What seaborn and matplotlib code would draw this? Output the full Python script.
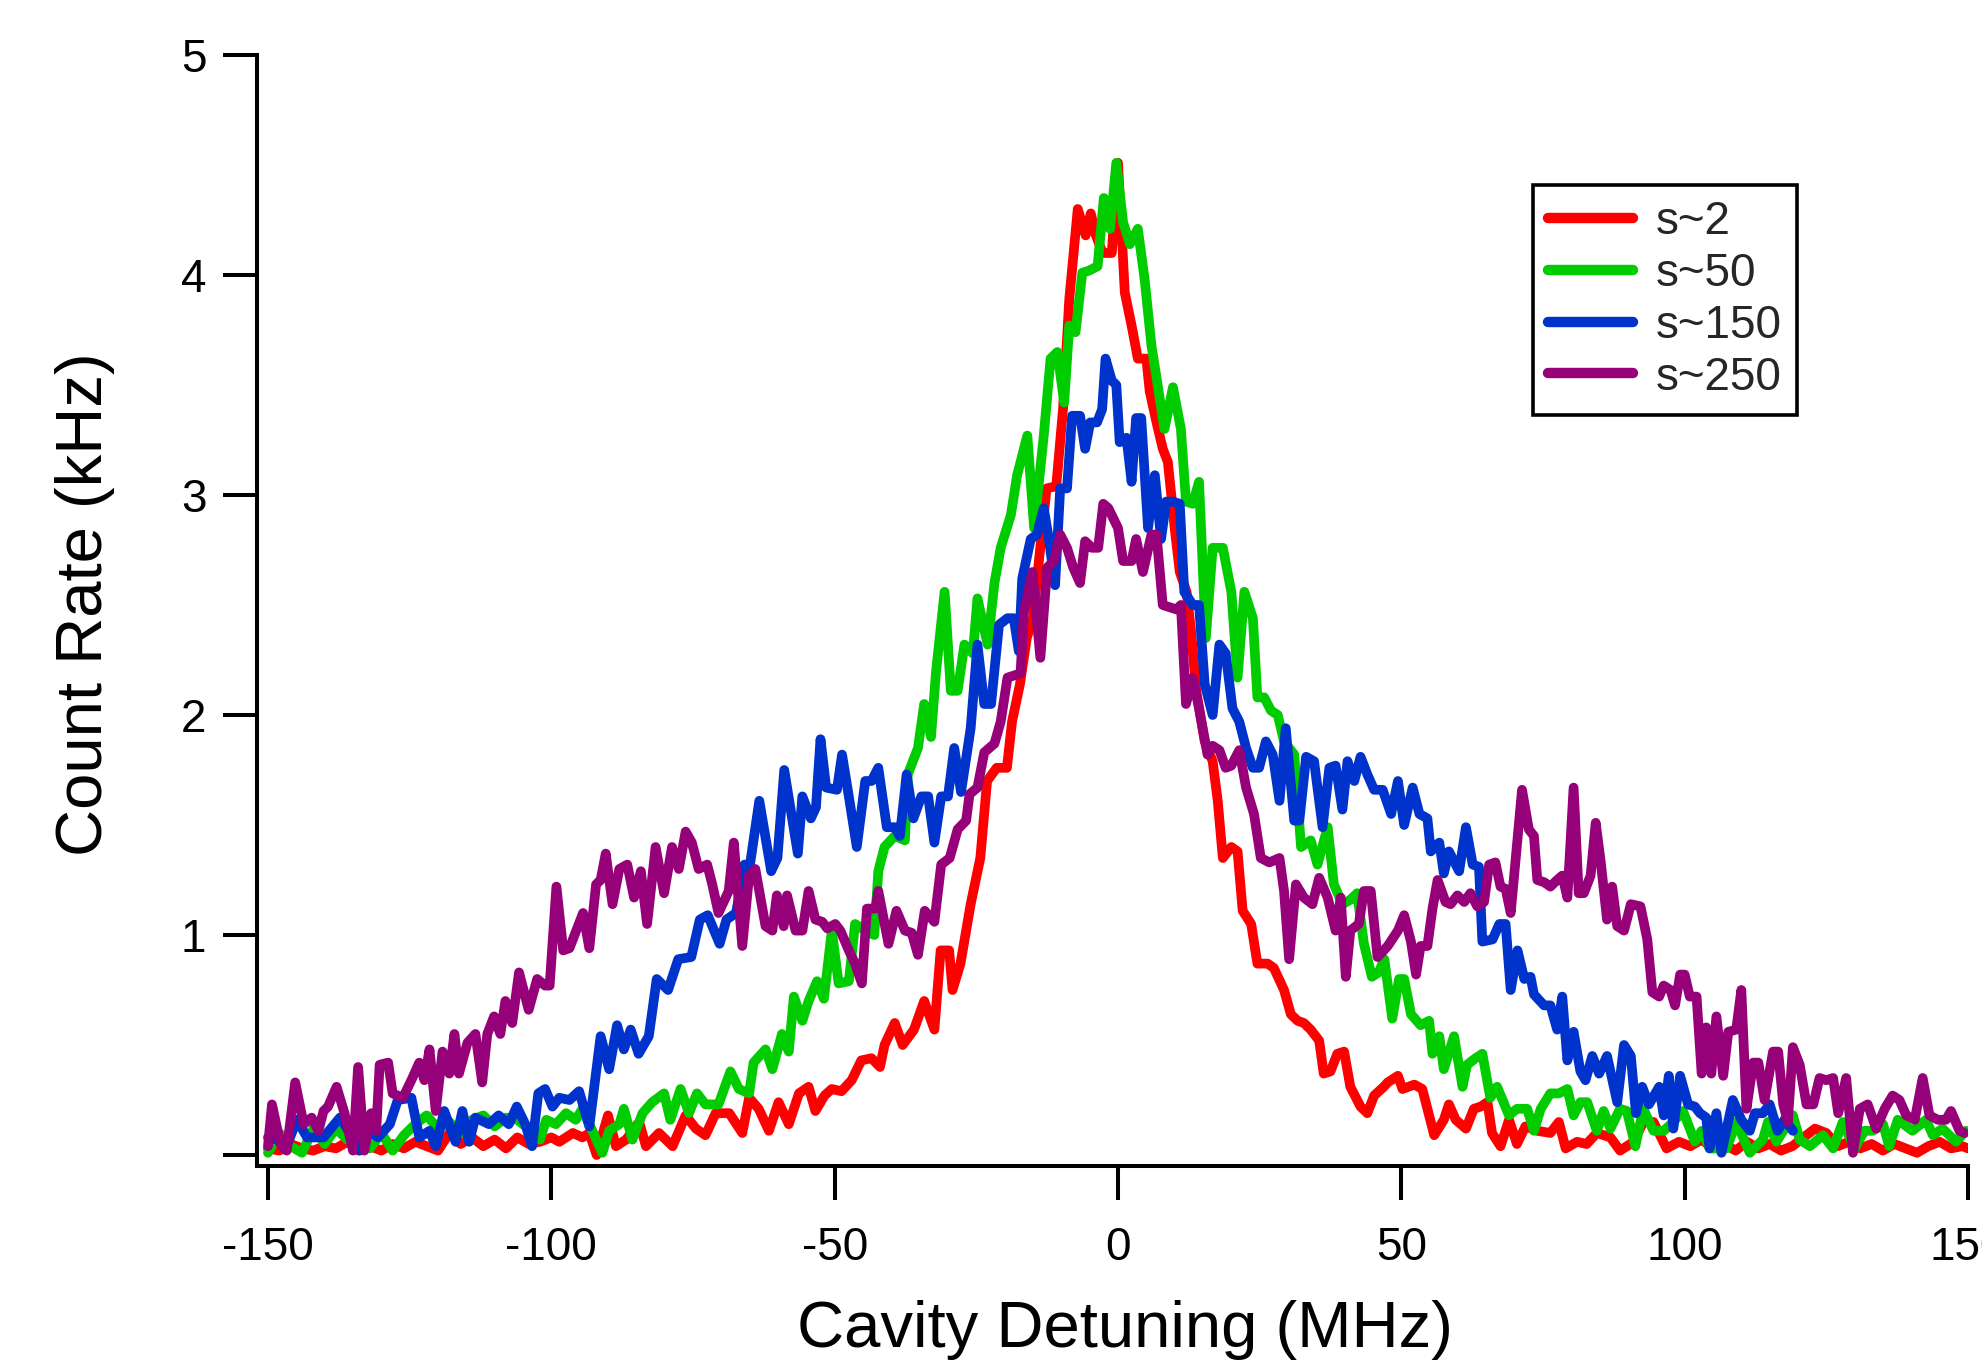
import numpy as np
import pandas as pd
import matplotlib
matplotlib.use("Agg")
import matplotlib.pyplot as plt
import seaborn as sns

# ---------------- data ----------------
series_names = ["s~2", "s~50", "s~150", "s~250"]
series_colors = ["#FF0000", "#00CC00", "#0033CC", "#960078"]

red_x = [-150, -148, -146, -144, -142, -140, -138, -136, -134, -132, -130, -128, -126, -124, -122, -120,
         -118, -116, -114, -112, -110, -108, -106, -104, -102, -100, -98.6, -96.2, -94.5, -93.3, -92, -90,
         -88.6, -86.8, -84.5, -83.3, -81, -78.6, -76.3, -74.5, -72.8, -71, -68.6, -66.3, -65.1, -63.4,
         -61.6, -59.9, -58.1, -56.3, -54.6, -53.4, -51.8, -50.5, -48.8, -47, -45.3, -43.5, -42, -41.2,
         -39.4, -38, -36, -34.2, -32.4, -31.3, -29.8, -29.2, -27.8, -26, -24.3, -23.1, -21.4, -19.6,
         -18.7, -17.3, -16.1, -15, -13.8, -12.6, -10.9, -9.7, -8.6, -7.1, -5.7, -4.8, -3.9, -2.7, -1.1,
         0, 1.2, 2.4, 3.5, 5, 5.6, 6.8, 7.9, 8.8, 10, 10.9, 12.1, 12.9, 13.8, 15.3, 16.7, 17.6, 18.5, 20,
         21.1, 22, 23.5, 24.6, 26.4, 27.5, 29.3, 30.5, 31.7, 32.8, 34, 35.5, 36.3, 37.5, 38.7, 39.9, 41,
         42.8, 44, 45.2, 46.9, 47.6, 49.4, 50.2, 52.3, 53.7, 54.9, 55.8, 57.5, 58.4, 59.6, 61.4, 62.8, 64,
         65.2, 66, 67.5, 69, 70.4, 71.9, 74, 76.3, 77.8, 79, 81, 82.7, 84.5, 86.9, 88.6, 91, 92.7, 94.5,
         96.8, 99, 101, 103, 105, 107, 109, 111, 113, 115, 117, 119, 121, 123, 125, 127, 129, 131, 133,
         135, 137, 139, 141, 143, 145, 147, 149, 150]
red_y = [0.03, 0.02, 0.05, 0.03, 0.02, 0.04, 0.03, 0.06, 0.02, 0.04, 0.02, 0.05, 0.03, 0.06, 0.04, 0.02,
         0.10, 0.05, 0.08, 0.04, 0.07, 0.03, 0.08, 0.05, 0.06, 0.08, 0.06, 0.10, 0.08, 0.10, 0.00, 0.18,
         0.04, 0.07, 0.15, 0.04, 0.10, 0.04, 0.18, 0.12, 0.09, 0.19, 0.19, 0.10, 0.26, 0.21,
         0.11, 0.24, 0.14, 0.28, 0.31, 0.20, 0.27, 0.30, 0.29, 0.34, 0.43, 0.44, 0.40, 0.50,
         0.60, 0.50, 0.57, 0.70, 0.57, 0.93, 0.93, 0.75, 0.87, 1.14, 1.35, 1.70, 1.76, 1.76,
         1.97, 2.14, 2.35, 2.44, 2.74, 3.03, 3.04, 3.39, 3.89, 4.30, 4.18, 4.28, 4.18, 4.10, 4.10,
         4.51, 3.92, 3.77, 3.62, 3.62, 3.47, 3.33, 3.21, 3.15, 2.85, 2.65, 2.56, 2.38, 2.11, 1.88, 1.79, 1.61, 1.35, 1.40,
         1.38, 1.11, 1.05, 0.87, 0.87, 0.85, 0.75, 0.64, 0.61, 0.60, 0.57, 0.52, 0.37, 0.38, 0.46, 0.47, 0.31,
         0.22, 0.19, 0.27, 0.31, 0.33, 0.36, 0.30, 0.32, 0.30, 0.18, 0.09, 0.16, 0.23, 0.16, 0.12, 0.21, 0.22,
         0.24, 0.10, 0.04, 0.16, 0.05, 0.13, 0.11, 0.10, 0.15, 0.03, 0.06, 0.05, 0.10, 0.08, 0.02, 0.06, 0.15, 0.15,
         0.03, 0.06, 0.04, 0.07, 0.03, 0.05, 0.02, 0.06, 0.03, 0.05, 0.02, 0.04, 0.08, 0.12, 0.10, 0.04, 0.06, 0.03, 0.05,
         0.02, 0.05, 0.03, 0.01, 0.04, 0.06, 0.03, 0.04, 0.03]

green_x = [-150, -148, -146, -144, -142, -140, -138, -136, -134, -132, -130, -128, -126, -124, -122, -120,
           -118, -116, -114, -112, -110, -108, -106, -104, -102, -100.9, -99.2, -97.4, -95.7, -94.5, -93.3,
           -91, -89.8, -88, -87.2, -85.7, -83.9, -82.2, -80.1, -79, -77.2, -75.7, -74.3, -72.8, -70.5, -68.4,
           -66.9, -65.1, -64.3, -62.2, -61, -59.3, -58.1, -57.2, -55.7, -54.6, -53.1, -51.9, -50.5, -49.3,
           -47.5, -46.4, -44.6, -43, -42.3, -41.2, -39.4, -37.6, -37.1, -35.3, -34.2, -33, -32.1, -30.6,
           -29.5, -28.3, -27.1, -25.6, -24.8, -23, -21.8, -20.7, -18.9, -17.8, -16, -14.8, -13.1, -11.9,
           -10.7, -9.5, -8.6, -7.5, -6.3, -5.1, -3.6, -2.5, -1.4, -0.3, 0.9, 2.1, 3.5, 4.7, 5.9, 7, 8.2, 9.7,
           11.1, 12, 13.2, 14.3, 15.5, 16.7, 18.5, 20, 21.1, 22.3, 23.8, 24.6, 25.8, 27, 28.2, 29.3, 31.1,
           32.3, 34, 35.2, 37, 38.1, 39.6, 41, 42.2, 43.4, 44.8, 46, 47, 48.4, 49.6, 50.5, 51.7, 53.4, 54.9,
           55.5, 56.7, 57.5, 59.3, 60.8, 61.6, 63.1, 64.3, 65.7, 66.9, 69, 70.4, 72.2, 73.4, 74.6, 76.3, 77.8,
           79.3, 80.4, 81.6, 82.8, 84.5, 85.7, 86.9, 88.6, 89.8, 91.3, 92.7, 94.5, 96.3, 98, 99.7, 101.8, 103,
           104.4, 107.4, 109.1, 111.5, 113.8, 114.7, 116.2, 119.1, 120.3, 122.1, 124.4, 126.2, 127.9, 130,
           131.7, 133.2, 135, 136.1, 137.6, 140.2, 142.6, 143.8, 145.5, 147.9, 149.6]
green_y = [0.01, 0.10, 0.04, 0.01, 0.12, 0.05, 0.12, 0.07, 0.15, 0.03, 0.10, 0.02, 0.09, 0.14, 0.18, 0.12,
           0.15, 0.10, 0.16, 0.18, 0.13, 0.17, 0.16, 0.12, 0.07, 0.16, 0.14, 0.19, 0.16, 0.21, 0.14,
           0.01, 0.11, 0.14, 0.21, 0.07, 0.19, 0.24, 0.28, 0.16, 0.30, 0.19, 0.28, 0.23, 0.23, 0.38,
           0.30, 0.28, 0.42, 0.48, 0.39, 0.55, 0.47, 0.72, 0.61, 0.70, 0.79, 0.71, 1.02, 0.78,
           0.79, 1.05, 1.02, 1.00, 1.29, 1.40, 1.45, 1.43, 1.73, 1.85, 2.05, 1.90, 2.20, 2.56,
           2.11, 2.11, 2.32, 2.28, 2.53, 2.32, 2.60, 2.76, 2.91, 3.09, 3.27, 2.85, 3.27, 3.62,
           3.65, 3.42, 3.77, 3.74, 4.01, 4.02, 4.04, 4.35, 4.21, 4.51, 4.24, 4.14, 4.21, 3.98, 3.68, 3.50, 3.30, 3.49,
           3.30, 2.97, 2.96, 3.06, 2.35, 2.76, 2.76, 2.56, 2.17, 2.56, 2.44, 2.08, 2.08, 2.02, 2.00, 1.88, 1.82,
           1.40, 1.43, 1.32, 1.49, 1.23, 1.14, 1.16, 1.19, 0.96, 0.81, 0.83, 0.89, 0.62, 0.80, 0.80, 0.64, 0.59, 0.61,
           0.46, 0.54, 0.39, 0.54, 0.31, 0.41, 0.44, 0.46, 0.26, 0.31, 0.18, 0.21, 0.21, 0.11, 0.21, 0.28, 0.28,
           0.30, 0.18, 0.24, 0.24, 0.11, 0.20, 0.12, 0.21, 0.20, 0.04, 0.21, 0.11, 0.11, 0.15, 0.20, 0.06, 0.11,
           0.03, 0.03, 0.15, 0.01, 0.07, 0.15, 0.06, 0.18, 0.07, 0.04, 0.09, 0.03, 0.15, 0.03,
           0.11, 0.11, 0.14, 0.04, 0.16, 0.11, 0.16, 0.09, 0.12, 0.06, 0.11]

blue_x = [-150, -148.4, -146.7, -144.9, -143.1, -140.2, -137.3, -135.8, -133.8, -132, -130.6, -128.5, -127.1,
          -124.7, -123.3, -121.5, -120.4, -118.9, -116.9, -115.7, -114.5, -113.4, -111, -109.3, -107.5, -106.1,
          -104.6, -103.4, -102.3, -101.1, -99.8, -98.6, -96.8, -95.1, -93.3, -91.3, -89.8, -88.4, -87.2, -86,
          -84.6, -82.8, -81.4, -79.4, -77.6, -75.3, -73.8, -72.4, -70.3, -69.1, -67.4, -65.9, -65, -63.3,
          -61.2, -60.1, -58.9, -56.5, -55.7, -54.2, -53.3, -52.5, -51.5, -49.6, -48.7, -47.5, -46.1, -44.6,
          -43.5, -42.3, -40.8, -39.4, -38.5, -37.3, -36.1, -34.7, -33.5, -32.4, -31.2, -30, -28.9, -27.7, -26,
          -24.8, -23.6, -22.4, -21, -19.5, -18.4, -17.5, -16.9, -15.4, -14.3, -13.1, -12.2, -11.1, -10.2, -9,
          -8.1, -6.7, -5.8, -4.9, -3.7, -2.8, -2.2, -1.1, -0.3, 0.3, 1.5, 2.4, 3.2, 4.1, 5.3, 6.5, 7.6, 8.5,
          9.7, 10.9, 11.7, 13.2, 14.3, 15.3, 16.7, 17.9, 19, 20.2, 21.4, 22.6, 23.8, 24.9, 26.1, 27.3, 28.5,
          29.6, 31.1, 32, 33.2, 34.6, 36.1, 37.3, 38.4, 39.6, 40.5, 41.7, 42.8, 44, 45.2, 46.7, 48.2, 49.4,
          50.5, 52, 53.2, 54.6, 55.2, 56.7, 57.5, 58.4, 60.2, 61.4, 62.6, 63.7, 64.3, 66.1, 67.3, 68.4, 69.3,
          70.5, 71.7, 72.8, 73.4, 75.2, 76.3, 77.5, 78.4, 79.3, 80.4, 81.6, 82.5, 83.7, 84.9, 86.3, 88.1, 89.3,
          90.5, 91.4, 92.5, 93.7, 95.5, 96.3, 97.2, 98, 99.2, 100.6, 101.8, 102.7, 103.8, 104.4, 105.6, 106.5,
          108.5, 110, 111.5, 112.4, 113.8, 115, 116.4, 117.6, 119.1]
blue_y = [0.08, 0.07, 0.04, 0.16, 0.08, 0.08, 0.17, 0.11, 0.02, 0.11, 0.08, 0.14, 0.25,
          0.26, 0.08, 0.11, 0.04, 0.20, 0.06, 0.20, 0.06, 0.17, 0.14, 0.18, 0.14, 0.22,
          0.14, 0.04, 0.28, 0.30, 0.22, 0.26, 0.25, 0.29, 0.13, 0.54, 0.39, 0.59, 0.48, 0.57,
          0.46, 0.54, 0.80, 0.75, 0.89, 0.90, 1.07, 1.09, 0.96, 1.07, 1.10, 1.32, 1.31, 1.61,
          1.29, 1.35, 1.75, 1.37, 1.63, 1.53, 1.58, 1.89, 1.67, 1.66, 1.82, 1.63, 1.40, 1.70,
          1.70, 1.76, 1.49, 1.49, 1.45, 1.73, 1.53, 1.63, 1.63, 1.42, 1.63, 1.63, 1.85, 1.65, 1.94,
          2.32, 2.05, 2.05, 2.41, 2.44, 2.44, 2.29, 2.62, 2.80, 2.82, 2.94, 2.80, 2.59, 3.03, 3.03,
          3.36, 3.36, 3.21, 3.33, 3.33, 3.39, 3.62, 3.52, 3.50, 3.24, 3.26, 3.06, 3.35, 3.35, 2.85, 3.09, 2.80, 2.97,
          2.97, 2.96, 2.56, 2.50, 2.50, 2.14, 2.00, 2.32, 2.28, 2.03, 1.97, 1.85, 1.76, 1.76, 1.88, 1.82, 1.61,
          1.94, 1.52, 1.52, 1.81, 1.79, 1.49, 1.76, 1.77, 1.57, 1.79, 1.70, 1.81, 1.73, 1.66, 1.66, 1.55, 1.70,
          1.50, 1.67, 1.55, 1.53, 1.38, 1.42, 1.28, 1.38, 1.29, 1.49, 1.32, 1.31, 0.97, 0.98, 1.05, 1.05, 0.75,
          0.93, 0.80, 0.81, 0.73, 0.68, 0.68, 0.57, 0.72, 0.43, 0.56, 0.38, 0.34, 0.45, 0.37, 0.45, 0.24, 0.50,
          0.45, 0.19, 0.31, 0.23, 0.31, 0.18, 0.36, 0.12, 0.36, 0.23, 0.22, 0.19, 0.17, 0.03, 0.19, 0.01,
          0.25, 0.16, 0.11, 0.19, 0.19, 0.23, 0.11, 0.16, 0.11]

purple_x = [-150, -149.3, -147.8, -146.7, -145.2, -143.7, -142.3, -141.1, -140.2, -139.4, -137.9, -136.5, -135,
            -134.1, -133, -131.8, -130.9, -130.3, -128.8, -128, -126.2, -124.7, -123.3, -122.4, -121.5, -120.4,
            -119.2, -118, -117.1, -116.3, -114.8, -113.4, -112.2, -111.3, -110.1, -109, -108.1, -106.9, -105.7,
            -104, -102.5, -101.1, -100.3, -99.1, -97.9, -96.8, -95.3, -94.4, -93.3, -92.1, -91.3, -90.4, -89.2,
            -88, -86.6, -85.4, -84.2, -83.1, -81.6, -80.1, -78.7, -77.5, -76.3, -75.2, -74, -72.5, -71.6, -70.5,
            -68.7, -67.8, -66.3, -65.1, -64, -62.2, -61, -60.2, -59, -58.4, -56.9, -55.7, -54.6, -53.4, -52.2,
            -51.3, -49.9, -49, -47.5, -46.4, -45.2, -44.3, -42.8, -42.3, -40.5, -39.1, -37.6, -36.4, -35.3, -34.1,
            -32.4, -31.2, -29.7, -28.3, -26.8, -26.2, -24.8, -23.6, -21.8, -20.7, -19.5, -18.3, -17.2, -16.6,
            -15.1, -13.7, -12.5, -11.3, -10.2, -9, -7.9, -6.7, -5.8, -4.6, -3.5, -2.6, -1.7, 0, 0.9, 2.4, 3.2,
            4.4, 5.9, 6.8, 7.9, 9.1, 10.3, 11.1, 12, 13.2, 14.3, 15.8, 16.7, 17.9, 19, 20, 21.4, 22.6, 24, 25.2,
            26.7, 28.5, 29.3, 30.2, 31.4, 32.8, 34.3, 35.5, 37, 38.4, 39.3, 40.2, 41, 42.5, 43.4, 44.6, 45.8,
            46.9, 47.6, 49.4, 50.5, 51.7, 52.6, 53.4, 54.6, 55.5, 56.4, 57.8, 58.7, 59.9, 61.1, 62.2, 63.4, 64.6,
            65.5, 66.6, 67.5, 68.4, 69.3, 71.3, 72.5, 73.4, 74, 75.2, 76.3, 77.5, 78.4, 79.3, 80.4, 81.3, 82.2,
            83.4, 84.3, 85.2, 86.3, 87.2, 88.1, 89.3, 90.5, 92.2, 93.4, 94.3, 95.5, 96.3, 97.5, 98.3, 99.2, 100,
            100.9, 102.1, 103, 103.8, 104.7, 105.6, 106.8, 107.7, 109.1, 110, 110.9, 112.1, 113, 114.1, 115.6,
            116.5, 117.4, 118.2, 119.1, 120.3, 121.5, 122.7, 123.8, 125, 126.2, 127.1, 128.5, 129.7, 130.9,
            132.3, 133.8, 135.3, 136.7, 137.9, 139.1, 140.6, 142, 143.2, 144.7, 146.1, 147, 148.5, 149.4]
purple_y = [0.04, 0.23, 0.05, 0.02, 0.33, 0.14, 0.17, 0.11, 0.20, 0.22, 0.31, 0.19, 0.02,
            0.40, 0.02, 0.19, 0.11, 0.41, 0.42, 0.28, 0.26, 0.34, 0.42, 0.34, 0.48, 0.20,
            0.47, 0.37, 0.55, 0.37, 0.51, 0.55, 0.33, 0.55, 0.63, 0.55, 0.70, 0.60, 0.83,
            0.66, 0.80, 0.77, 0.77, 1.22, 0.93, 0.94, 1.04, 1.10, 0.94, 1.23, 1.25, 1.37, 1.14,
            1.30, 1.32, 1.17, 1.29, 1.05, 1.40, 1.19, 1.40, 1.30, 1.47, 1.42, 1.30, 1.32, 1.23, 1.10,
            1.20, 1.42, 0.95, 1.27, 1.30, 1.04, 1.02, 1.18, 1.04, 1.18, 1.02, 1.02, 1.20, 1.07, 1.06,
            1.03, 1.05, 1.02, 0.93, 0.87, 0.78, 1.12, 1.12, 1.20, 0.96, 1.11, 1.02, 1.01, 0.91, 1.11,
            1.06, 1.32, 1.35, 1.48, 1.52, 1.64, 1.67, 1.83, 1.87, 1.97, 2.17, 2.18, 2.19, 2.47,
            2.65, 2.26, 2.67, 2.70, 2.82, 2.76, 2.67, 2.60, 2.79, 2.76, 2.76, 2.96, 2.94, 2.85, 2.70, 2.70, 2.80,
            2.65, 2.82, 2.82, 2.50, 2.49, 2.48, 2.50, 2.05, 2.17, 2.03, 1.82, 1.86, 1.84, 1.76, 1.77, 1.84, 1.67, 1.55, 1.35,
            1.33, 1.35, 1.20, 0.89, 1.23, 1.17, 1.14, 1.26, 1.17, 1.02, 1.17, 0.81, 1.02, 1.05, 1.20, 1.20, 0.90,
            0.93, 0.95, 1.02, 1.09, 0.97, 0.82, 0.95, 0.95, 1.12, 1.25, 1.15, 1.14, 1.18, 1.15, 1.19, 1.13, 1.15,
            1.32, 1.33, 1.22, 1.21, 1.10, 1.66, 1.48, 1.45, 1.25, 1.24, 1.22, 1.25, 1.27, 1.17, 1.67, 1.19, 1.19,
            1.27, 1.51, 1.33, 1.07, 1.22, 1.04, 1.02, 1.14, 1.13, 0.98, 0.74, 0.72, 0.77, 0.75, 0.68, 0.82, 0.82,
            0.72, 0.72, 0.37, 0.58, 0.37, 0.63, 0.36, 0.56, 0.57, 0.75, 0.21, 0.42, 0.42, 0.25, 0.47,
            0.47, 0.23, 0.15, 0.49, 0.41, 0.23, 0.23, 0.35, 0.34, 0.35, 0.19, 0.35, 0.01, 0.21,
            0.23, 0.12, 0.21, 0.27, 0.25, 0.18, 0.16, 0.35, 0.18, 0.16, 0.16, 0.20, 0.11, 0.10]

y_ticks = [0, 1, 2, 3, 4, 5]
y_tick_labels = ["", "1", "2", "3", "4", "5"]
x_ticks = [-150, -100, -50, 0, 50, 100, 150]
x_tick_labels = ["-150", "-100", "-50", "0", "50", "100", "150"]
x_label = "Cavity Detuning (MHz)"
y_label = "Count Rate (kHz)"

# ---------------- build long table ----------------
frames = []
for name, xs, ys in zip(series_names, [red_x, green_x, blue_x, purple_x], [red_y, green_y, blue_y, purple_y]):
    frames.append(pd.DataFrame({"x": xs, "y": ys, "series": name}))
df = pd.concat(frames, ignore_index=True)

# ---------------- style ----------------
sns.set_style("ticks")
plt.rcParams["font.family"] = ["Liberation Sans", "DejaVu Sans"]

fig = plt.figure(figsize=(19.82, 13.69), dpi=100)
ax = fig.add_axes([257 / 1982, 1 - 1166 / 1369, (1968 - 257) / 1982, (1166 - 55) / 1369])

sns.lineplot(data=df, x="x", y="y", hue="series", hue_order=series_names,
             palette=dict(zip(series_names, series_colors)), estimator=None, sort=False,
             linewidth=7, ax=ax, legend=True)

ax.set_xlim(-151.94, 150)
ax.set_ylim(-0.05, 5)
ax.set_xticks(x_ticks)
ax.set_xticklabels(x_tick_labels)
ax.set_yticks(y_ticks)
ax.set_yticklabels(y_tick_labels)

for s in ["top", "right"]:
    ax.spines[s].set_visible(False)
for s in ["left", "bottom"]:
    ax.spines[s].set_linewidth(2.9)
    ax.spines[s].set_color("black")

ax.tick_params(axis="both", direction="out", length=24.5, width=2.9, color="black",
               labelsize=33, labelcolor="black")
ax.tick_params(axis="x", pad=19)
ax.tick_params(axis="y", pad=12)

ax.set_xlabel(x_label, fontsize=47, color="black")
ax.set_ylabel(y_label, fontsize=47, color="black")
ax.xaxis.label.set_va("center")
ax.yaxis.label.set_va("center")
ax.xaxis.set_label_coords(0.507, -0.148)
ax.yaxis.set_label_coords(-0.1005, 0.506)

handles, labels = ax.get_legend_handles_labels()
for h in handles:
    h.set_linewidth(7.5)
leg = ax.legend(handles, labels, loc="upper left", bbox_to_anchor=(1533 / 1982, 1 - 185 / 1369),
                bbox_transform=fig.transFigure, fontsize=33, frameon=True, fancybox=False,
                handlelength=1.85, handletextpad=0.5, labelspacing=0.17, borderpad=0.33,
                borderaxespad=0)
leg.get_frame().set_edgecolor("black")
leg.get_frame().set_linewidth(2.6)
leg.get_frame().set_facecolor("white")
leg.get_frame().set_alpha(1)

fig.savefig("out.png", dpi=100, facecolor="white")
